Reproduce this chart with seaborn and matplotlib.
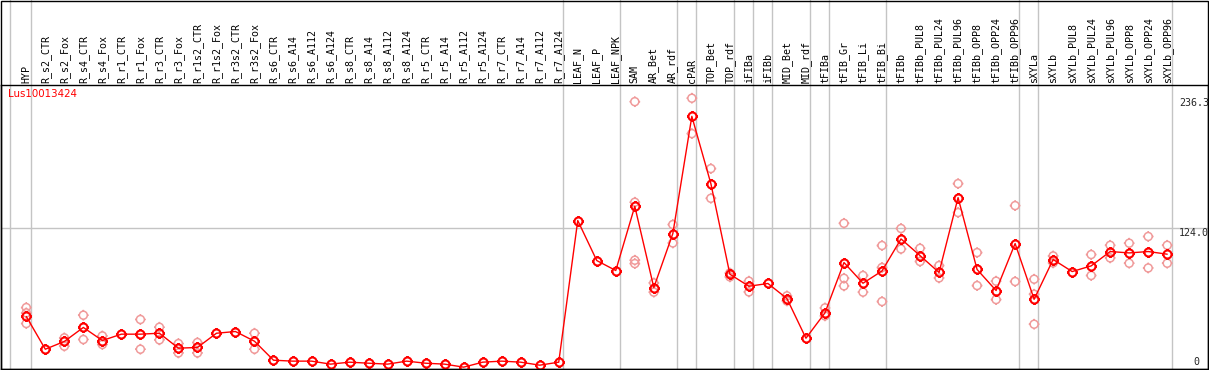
import numpy as np
import pandas as pd
import matplotlib
matplotlib.use("Agg")
import matplotlib.pyplot as plt
import matplotlib.transforms as mtransforms
from matplotlib.path import Path
from matplotlib.patches import Rectangle
import seaborn as sns

sns.set_style("white")
plt.rcParams["font.family"] = ["DejaVu Sans Mono", "DejaVu Sans"]

# ---------------------------------------------------------------------------
# data
# ---------------------------------------------------------------------------

gene = "Lus10013424"

samples = [
    "HYP", "R_s2_CTR", "R_s2_Fox", "R_s4_CTR", "R_s4_Fox", "R_r1_CTR", "R_r1_Fox",
    "R_r3_CTR", "R_r3_Fox", "R_r1s2_CTR", "R_r1s2_Fox", "R_r3s2_CTR", "R_r3s2_Fox",
    "R_s6_CTR", "R_s6_A14", "R_s6_A112", "R_s6_A124", "R_s8_CTR", "R_s8_A14",
    "R_s8_A112", "R_s8_A124", "R_r5_CTR", "R_r5_A14", "R_r5_A112", "R_r5_A124",
    "R_r7_CTR", "R_r7_A14", "R_r7_A112", "R_r7_A124", "LEAF_N", "LEAF_P", "LEAF_NPK",
    "SAM", "AR_Bet", "AR_rdf", "cPAR", "TOP_Bet", "TOP_rdf", "iFIBa", "iFIBb",
    "MID_Bet", "MID_rdf", "tFIBa", "tFIB_Gr", "tFIB_Li", "tFIB_Bi", "tFIBb",
    "tFIBb_PUL8", "tFIBb_PUL24", "tFIBb_PUL96", "tFIBb_OPP8", "tFIBb_OPP24",
    "tFIBb_OPP96", "sXYLa", "sXYLb", "sXYLb_PUL8", "sXYLb_PUL24", "sXYLb_PUL96",
    "sXYLb_OPP8", "sXYLb_OPP24", "sXYLb_OPP96",
]

means = [
    47.7, 19.4, 26.1, 38.2, 26.9, 32.4, 32.4, 33.2, 20.3, 20.9, 33.2, 34.7, 26.3,
    9.9, 9.1, 9.1, 6.5, 8.2, 7.3, 6.5, 9.1, 7.3, 6.5, 3.9, 8.2, 9.1, 8.2, 5.6, 8.2,
    130.6, 96.0, 87.4, 142.9, 72.7, 119.3, 220.6, 162.5, 84.2, 73.8, 76.2, 63.2,
    28.9, 50.8, 94.3, 76.4, 87.0, 114.7, 100.3, 85.7, 150.4, 88.3, 70.1, 110.7,
    62.6, 96.9, 86.5, 91.4, 103.8, 102.6, 103.8, 101.5,
]

# replicates that show up as pale circles (others sit under the mean marker)
replicates = [
    [55.4, 50.8, 41.6], [], [29.2, 22.0], [48.8, 27.8], [30.9, 23.5], [],
    [45.1, 19.4], [38.4, 27.5], [24.3, 16.2], [25.2, 16.2], [], [], [33.2, 19.4],
    [], [], [], [], [], [], [], [], [], [], [], [], [], [], [], [],
    [], [], [], [233.3, 146.4, 96.3, 93.4], [76.7, 68.7], [127.1, 111.2],
    [236.3, 205.7], [175.5, 149.8], [85.3, 81.9], [78.2, 68.9], [], [65.5, 61.1],
    [], [55.1, 48.2], [128.2, 80.7, 74.1], [83.1, 68.7], [109.0, 90.0, 60.6],
    [123.7, 106.0], [106.6, 95.2], [91.7, 81.0], [162.5, 137.5], [102.9, 74.4],
    [78.2, 62.3], [143.5, 77.9], [79.9, 66.9, 41.0], [100.0, 94.0], [],
    [101.2, 83.1], [109.2, 98.3], [111.0, 93.7], [116.8, 89.6], [109.2, 93.7],
]

# last sample of each group (a separator line follows it)
group_ends = [0, 28, 31, 34, 35, 37, 38, 39, 41, 42, 45, 52, 53, 60]

y_max_label = 236.3
y_mid_label = 124.0

# ---------------------------------------------------------------------------

pos = np.arange(len(samples))
mean_df = pd.DataFrame({"pos": pos, "value": means})
rep_df = pd.DataFrame(
    [(i, v) for i, vals in enumerate(replicates) for v in vals],
    columns=["pos", "value"],
)

# circle marker with four small ticks
circle = Path.unit_circle()
t = 1.35
ticks = Path(
    [(0, 1), (0, t), (0, -1), (0, -t), (1, 0), (t, 0), (-1, 0), (-t, 0)],
    [Path.MOVETO, Path.LINETO] * 4,
)
mark = Path.make_compound_path(circle, ticks)

W, H = 1209, 370
fig = plt.figure(figsize=(W / 100, H / 100), dpi=100)
ax_top, ax_bot = 85, 369
ax = fig.add_axes([1 / W, (H - ax_bot) / H, 1207 / W, (ax_bot - ax_top) / H])
ax.set_facecolor("white")

x0 = -1.33
ax.set_xlim(x0, x0 + 1206 / 19)
ax.set_ylim(2.3, 247.7)
ax.set_xticks([])
ax.set_yticks([])
for s in ax.spines.values():
    s.set_color("black")
    s.set_linewidth(1)

grid_col = "#c4c4c4"
ext = 1 + ax_top / (ax_bot - ax_top)
for g in [-0.84] + [e + 0.23 for e in group_ends]:
    ax.axvline(g, ymin=0, ymax=ext, color=grid_col, lw=1, clip_on=False, zorder=0)
ax.axhline(y_mid_label, color=grid_col, lw=1, zorder=0)

sns.scatterplot(data=rep_df, x="pos", y="value", ax=ax, marker=mark, s=60,
                facecolor="none", edgecolor="#f09a9a", linewidth=1.1, zorder=2)
sns.lineplot(data=mean_df, x="pos", y="value", ax=ax, color="#ff0000", lw=1,
             marker=mark, markersize=7.8, markerfacecolor="none",
             markeredgecolor="#ff0000", markeredgewidth=1.5, zorder=3)
ax.set_xlabel("")
ax.set_ylabel("")

trans = mtransforms.blended_transform_factory(ax.transData, ax.transAxes)
for i, name in zip(pos, samples):
    ax.text(i, 1 + 2 / (ax_bot - ax_top), name, transform=trans, rotation=90,
            ha="center", va="bottom", fontsize=7.2, color="black", clip_on=False)

ax.text(-0.95, 244.5, gene, color="#ff0000", fontsize=7.4, ha="left", va="top",
        family=["DejaVu Sans"])

xr = (1178 - 26.3) / 19
ax.text(xr, y_max_label, f"{y_max_label:.1f}", fontsize=7.2, ha="left", va="top")
ax.text(xr, y_mid_label, f"{y_mid_label:.1f}", fontsize=7.2, ha="left", va="top")
ax.text(xr + 0.75, 2 / (ax_bot - ax_top), "0", transform=trans, fontsize=7.2,
        ha="left", va="bottom")

fig.patches.append(Rectangle((1 / W, (H - ax_bot) / H), 1207 / W, (ax_bot - 0.5) / H,
                             transform=fig.transFigure, fill=False,
                             edgecolor="black", lw=1))

fig.savefig("out.png", dpi=100)
